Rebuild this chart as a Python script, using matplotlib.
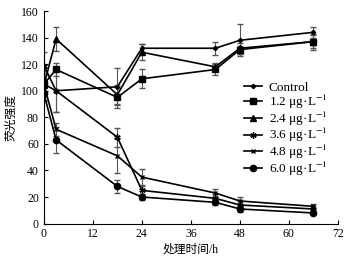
import matplotlib
matplotlib.use("Agg")
import matplotlib.pyplot as plt

plt.rcParams["font.family"] = ["Liberation Serif", "Noto Sans CJK SC"]
plt.rcParams["mathtext.fontset"] = "stix"

tempo = [0, 3, 18, 24, 42, 48, 66]

rotulos = ["Control", "1.2 μg·L$^{-1}$", "2.4 μg·L$^{-1}$",
           "3.6 μg·L$^{-1}$", "4.8 μg·L$^{-1}$", "6.0 μg·L$^{-1}$"]

controle = [105, 100, 103, 132, 132, 138, 144]
c12 = [105, 116, 95, 109, 116, 131, 137]
c24 = [104, 139, 97, 129, 118, 132, 137]
c36 = [119, 100, 65, 25, 19, 14, 11]
c48 = [105, 71, 51, 35, 23, 17, 13]
c60 = [98, 63, 28, 20, 16, 11, 8]

erro_controle = [12, 16, 14, 3, 5, 12, 4]
erro_c12 = [10, 5, 8, 7, 4, 3, 6]
erro_c24 = [8, 9, 7, 6, 3, 4, 5]
erro_c36 = [10, 16, 7, 3, 3, 3, 2]
erro_c48 = [8, 5, 13, 6, 3, 3, 2]
erro_c60 = [6, 10, 5, 2, 2, 2, 1]

series = [controle, c12, c24, c36, c48, c60]
erros = [erro_controle, erro_c12, erro_c24, erro_c36, erro_c48, erro_c60]
marcadores = ["D", "s", "^", (6, 2, 0), "x", "o"]
tamanhos = [2.2, 4.5, 4.5, 4.5, 3.5, 4.5]

fig = plt.figure(figsize=(3.48, 2.57), dpi=100)
ax = fig.add_axes([0.126, 0.130, 0.845, 0.827])

linhas = []
for valores, erro, m, t, nome in zip(series, erros, marcadores, tamanhos, rotulos):
    eb = ax.errorbar(tempo, valores, yerr=erro, color="black", ecolor="#555555",
                     elinewidth=0.8, capsize=2, capthick=0.8, linewidth=1.2,
                     marker=m, markersize=t, markeredgewidth=1.0, label=nome)
    linhas.append(eb[0])

ax.set_xlim(0, 72)
ax.set_ylim(0, 160)
ax.set_xticks(range(0, 73, 12))
ax.set_yticks(range(0, 161, 20))
ax.tick_params(direction="in", labelsize=8.5, length=3, width=0.8)
ax.spines["top"].set_visible(False)
ax.spines["right"].set_visible(False)

ax.set_xlabel("处理时间/h", fontsize=8.5, labelpad=2)
ax.set_ylabel("荧光强度", fontsize=8.5, labelpad=3)

ax.legend(linhas, rotulos, loc="lower left", bbox_to_anchor=(0.68, 0.215),
          frameon=False, fontsize=9.5, handlelength=1.4, labelspacing=-0.1,
          handletextpad=0.5, borderpad=0, borderaxespad=0)

plt.savefig("out.png", dpi=100)
